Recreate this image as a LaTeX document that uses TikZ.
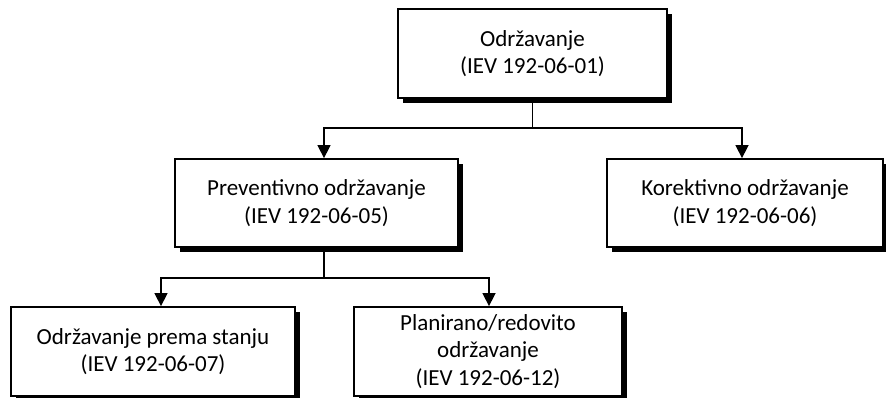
\documentclass[tikz,border=0pt]{standalone}
\usepackage{fontspec}
\setmainfont{Carlito}
\usetikzlibrary{arrows.meta,shadows}
\tikzset{
  box/.style={draw=black, line width=1.8pt, fill=white, align=center,
    font=\fontsize{23}{27.5}\selectfont, inner sep=0pt,
    drop shadow={shadow xshift=5pt, shadow yshift=-5pt, opacity=1, fill=black}},
  conn/.style={line width=1.5pt, draw=black},
  arr/.style={conn, -{Triangle[width=13pt,length=13pt]}}
}
\begin{document}
\begin{tikzpicture}[x=1pt,y=-1pt]
\useasboundingbox[fill=white] (0,0) rectangle (886,397);
\node[box, minimum width=269pt, minimum height=89pt] (top) at (532.5,53.5) {Održavanje\\(IEV 192-06-01)};
\node[box, minimum width=283pt, minimum height=88pt] (prev) at (316.5,203) {Preventivno održavanje\\(IEV 192-06-05)};
\node[box, minimum width=276pt, minimum height=88pt] (kor) at (745,203) {Korektivno održavanje\\(IEV 192-06-06)};
\node[box, minimum width=284pt, minimum height=89pt] (stan) at (153,351.5) {Održavanje prema stanju\\(IEV 192-06-07)};
\node[box, minimum width=268pt, minimum height=89pt] (plan) at (488,351.5) {Planirano/redovito\\održavanje\\(IEV 192-06-12)};
\coordinate (j1) at (532.5,128);
\coordinate (j2) at (324,278);
\draw[conn] (top.south) -- (j1);
\draw[arr] (j1) -| ([xshift=7.5pt]prev.north);
\draw[arr] (j1) -| ([xshift=-3pt]kor.north);
\draw[conn] ([xshift=7.5pt]prev.south) -- (j2);
\draw[arr] (j2) -| ([xshift=8pt]stan.north);
\draw[arr] (j2) -| ([xshift=1pt]plan.north);
\end{tikzpicture}
\end{document}
